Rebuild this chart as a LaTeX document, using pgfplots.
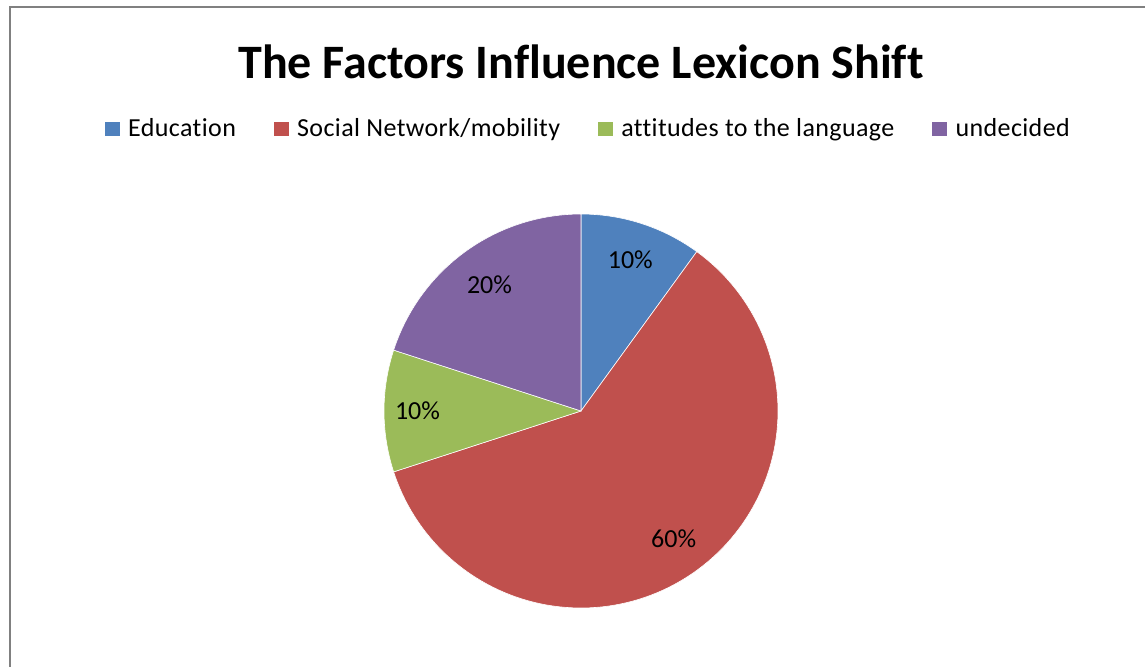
\documentclass[border=0pt]{standalone}
\usepackage{fontspec}
\setmainfont{Carlito}[RawFeature={-liga;-clig;-dlig}]
\usepackage{pgfplots}
\usepgfplotslibrary{polar}
\pgfplotsset{compat=1.18}
\definecolor{cEdu}{HTML}{4F81BD}
\definecolor{cSoc}{HTML}{C0504D}
\definecolor{cAtt}{HTML}{9BBB59}
\definecolor{cUnd}{HTML}{8064A2}
\definecolor{frame}{HTML}{808080}
% shares in percent
\def\pEdu{10}
\def\pSoc{60}
\def\pAtt{10}
\def\pUnd{20}
\begin{document}
\begin{tikzpicture}
\useasboundingbox (0,0) rectangle (572.5pt,-333.5pt);
\draw[frame, line width=1pt] (5pt,-340pt) -- (5pt,-3.5pt) -- (580pt,-3.5pt);
\pgfmathsetmacro{\aA}{90}
\pgfmathsetmacro{\aB}{90-3.6*\pEdu}
\pgfmathsetmacro{\aC}{\aB-3.6*\pSoc}
\pgfmathsetmacro{\aD}{\aC-3.6*\pAtt}
\pgfmathsetmacro{\aE}{\aD-3.6*\pUnd}
\begin{polaraxis}[
  at={(290.5pt,-205.5pt)}, anchor=center,
  scale only axis, width=197pt, height=197pt,
  ymin=0, ymax=1, hide axis, clip=false,
  legend columns=4,
  legend style={at={(0.515,1.216)}, anchor=center, draw=none, fill=none,
    font=\fontsize{13pt}{15pt}\selectfont\addfontfeature{LetterSpace=1.5},
    nodes={inner sep=0pt},
    /tikz/every odd column/.append style={column sep=4pt},
    /tikz/every even column/.append style={column sep=18.5pt}},
  legend image code/.code={\fill[#1] (0pt,-3.9pt) rectangle (7.8pt,3.9pt);},
]
\addplot[fill=cEdu, draw=white, line width=0.3pt, domain=\aB:\aA, samples=40] {1} -- (axis cs:0,0) -- cycle;
\addlegendentry{Education}
\addplot[fill=cSoc, draw=white, line width=0.3pt, domain=\aC:\aB, samples=120] {1} -- (axis cs:0,0) -- cycle;
\addlegendentry{Social Network/mobility}
\addplot[fill=cAtt, draw=white, line width=0.3pt, domain=\aD:\aC, samples=40] {1} -- (axis cs:0,0) -- cycle;
\addlegendentry{attitudes to the language}
\addplot[fill=cUnd, draw=white, line width=0.3pt, domain=\aE:\aD, samples=60] {1} -- (axis cs:0,0) -- cycle;
\addlegendentry{undecided}
\node[font=\fontsize{13pt}{15pt}\selectfont] at (axis cs:{(\aA+\aB)/2},0.81) {10\%};
\node[font=\fontsize{13pt}{15pt}\selectfont] at (axis cs:{(\aB+\aC)/2},0.8) {60\%};
\node[font=\fontsize{13pt}{15pt}\selectfont] at (axis cs:{(\aC+\aD)/2},0.83) {10\%};
\node[font=\fontsize{13pt}{15pt}\selectfont] at (axis cs:{(\aD+\aE)/2},0.79) {20\%};
\end{polaraxis}
\node[font=\bfseries\fontsize{24pt}{28pt}\selectfont] at (290.5pt,-31pt) {The Factors Influence Lexicon Shift};
\end{tikzpicture}
\end{document}
